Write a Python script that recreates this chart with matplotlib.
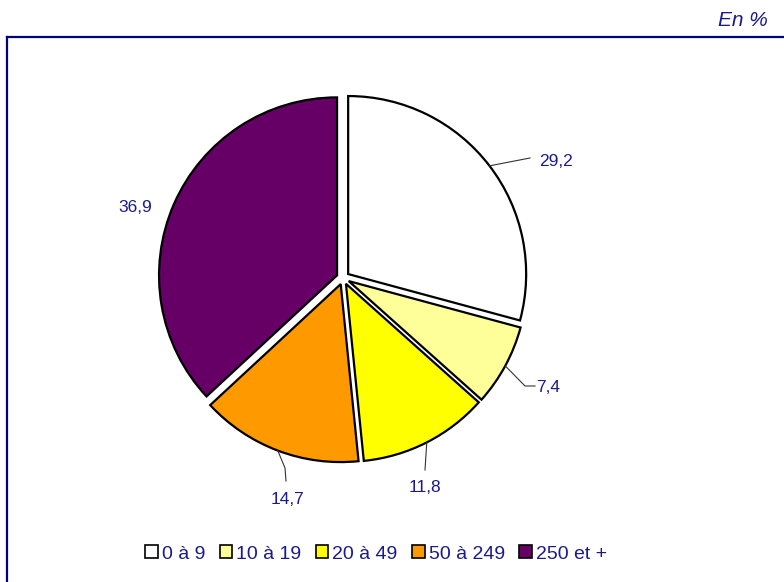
import numpy as np
import matplotlib.pyplot as plt
from matplotlib.lines import Line2D
from matplotlib.patches import Patch

plt.rcParams["font.family"] = "Liberation Sans"

# data
categories = ["0 à 9", "10 à 19", "20 à 49", "50 à 249", "250 et +"]
values = [29.2, 7.4, 11.8, 14.7, 36.9]
value_labels = ["29,2", "7,4", "11,8", "14,7", "36,9"]
colors = ["#FFFFFF", "#FFFF99", "#FFFF00", "#FF9900", "#660066"]

NAVY = "#1a1a8c"
W, H = 784, 582

fig = plt.figure(figsize=(W / 100, H / 100), dpi=100)
ax = fig.add_axes([0, 0, 1, 1])

cx, cy, r = 343, H - 278, 178
expl = 6.5  # pixels (pie explode is in data units)
wedges, _ = ax.pie(values, colors=colors, startangle=90, counterclock=False,
                   center=(cx, cy), radius=r, explode=[expl] * len(values),
                   wedgeprops=dict(edgecolor="black", linewidth=1.6))
ax.set_xlim(0, W)
ax.set_ylim(0, H)
ax.set_aspect("auto")
ax.axis("off")

# leader line points after the wedge edge, and text centres (pixels from top)
leaders = [[(530, 158)], [(525, 386), (535, 386)], [(425, 470)], [(285, 468), (286, 481)], []]
texts = [(556, 162), (548, 387), (425, 488), (288, 500), (135, 207)]

for w, lab, pts, tp in zip(wedges, value_labels, leaders, texts):
    ang = np.deg2rad((w.theta1 + w.theta2) / 2)
    ex, ey = w.center
    px = ex + r * np.cos(ang)
    py = ey + r * np.sin(ang)
    if pts:
        xs = [px] + [p[0] for p in pts]
        ys = [py] + [H - p[1] for p in pts]
        ax.plot(xs, ys, color="#333333", lw=0.8)
    ax.text(tp[0], H - tp[1], lab, color=NAVY, fontsize=12.5,
            ha="center", va="center")

# frame lines
fig.add_artist(Line2D([7 / W, 7 / W], [0, 1 - 37 / H], color="#000080", lw=1.6,
                      transform=fig.transFigure))
fig.add_artist(Line2D([7 / W, 1], [1 - 37 / H, 1 - 37 / H], color="#000080", lw=1.6,
                      transform=fig.transFigure))

fig.text(743 / W, 1 - 20 / H, "En %", color=NAVY, fontsize=15, style="italic",
         ha="center", va="center")

handles = [Patch(facecolor=c, edgecolor="black", linewidth=1.2) for c in colors]
leg = fig.legend(handles, categories, loc="center", bbox_to_anchor=(376 / W, 1 - 554 / H),
                 ncol=5, frameon=False, fontsize=14, handlelength=0.65, handleheight=0.65,
                 handletextpad=0.2, columnspacing=0.75)
for t in leg.get_texts():
    t.set_color(NAVY)

fig.savefig("out.png", dpi=100)
